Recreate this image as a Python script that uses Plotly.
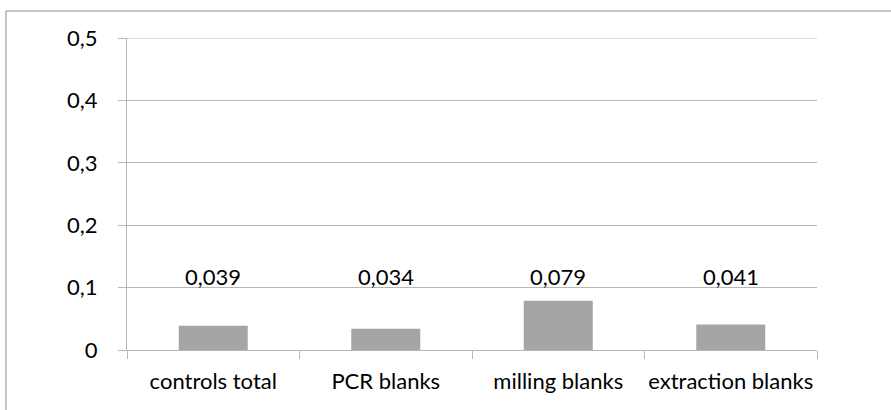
import plotly.graph_objects as go

categories = ["controls total", "PCR blanks", "milling blanks", "extraction blanks"]
values = [0.039, 0.034, 0.079, 0.041]
y_ticks = [0, 0.1, 0.2, 0.3, 0.4, 0.5]

font_family = "Lato, 'Open Sans', sans-serif"
font_size = 22
text_color = "#000000"
grid_color = "#b7b7b7"
axis_color = "#b7b7b7"
bar_color = "#a5a5a5"

fig = go.Figure()
fig.add_trace(go.Bar(
    x=categories,
    y=values,
    marker=dict(color=bar_color, line=dict(width=0)),
    width=0.4,
    hoverinfo="skip",
))

# value labels sit at a common height above the bars
label_y = 0.117
for cat, v in zip(categories, values):
    fig.add_annotation(
        x=cat, y=label_y, xref="x", yref="y",
        text=f"{v:.3f}".replace(".", ","),
        showarrow=False, yanchor="middle",
        font=dict(family=font_family, size=font_size, color=text_color),
    )

# top gridline at the end of the value range
fig.add_shape(type="line", xref="paper", yref="y",
              x0=0, x1=1, y0=0.5, y1=0.5,
              line=dict(color=grid_color, width=1))

# chart frame (left and top edges visible)
fig.add_shape(type="line", xref="paper", yref="paper",
              x0=-0.1754, x1=-0.1754, y0=-0.3, y1=1.0865,
              line=dict(color="#8a8a8a", width=1))
fig.add_shape(type="line", xref="paper", yref="paper",
              x0=-0.1754, x1=1.2, y0=1.0865, y1=1.0865,
              line=dict(color="#8a8a8a", width=1))

fig.update_layout(
    width=891, height=410,
    margin=dict(l=127, r=74, t=38, b=60),
    paper_bgcolor="white", plot_bgcolor="white",
    separators=", ",
    showlegend=False,
    font=dict(family=font_family, size=font_size, color=text_color),
    bargap=0.6,
)
fig.update_xaxes(
    type="category",
    showline=True, linecolor=axis_color, linewidth=1,
    ticks="outside", tickson="boundaries", ticklen=8, tickcolor=axis_color,
    showgrid=False,
    tickangle=0,
    automargin=False,
    ticklabelstandoff=12,
    tickfont=dict(family=font_family, size=font_size, color=text_color),
    fixedrange=True,
)
fig.update_yaxes(
    range=[0, 0.5],
    tickvals=y_ticks,
    tickformat=".1~f",
    showline=True, linecolor=axis_color, linewidth=1,
    ticks="outside", ticklen=8, tickcolor=axis_color,
    showgrid=True, gridcolor=grid_color, gridwidth=1,
    zeroline=False,
    automargin=False,
    tickfont=dict(family=font_family, size=font_size, color=text_color),
    ticklabelstandoff=16,
    fixedrange=True,
)

fig.write_html("out.html", config={"displayModeBar": False})
